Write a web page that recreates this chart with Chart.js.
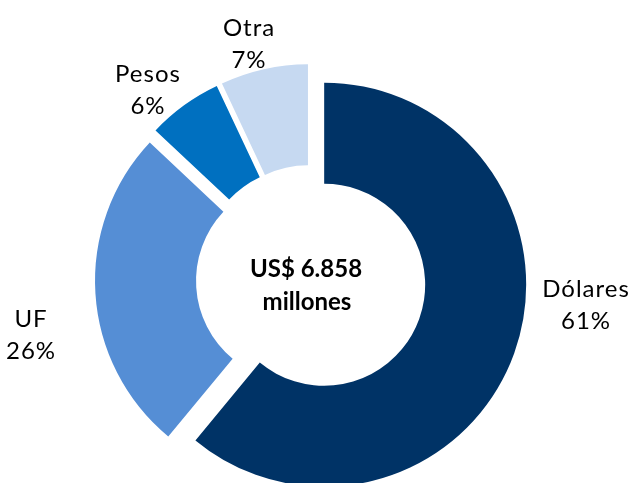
<!DOCTYPE html>
<html>
<head>
<meta charset="utf-8">
<script src="https://cdn.jsdelivr.net/npm/chart.js@4.4.0/dist/chart.umd.min.js"></script>
<style>
  html, body { margin: 0; padding: 0; background: #fff; overflow: hidden; }
  #wrap { width: 635px; height: 483px; position: relative; }
</style>
</head>
<body>
<div id="wrap"><canvas id="myChart" width="635" height="483"></canvas></div>
<script>
// data
const categories = ["Dólares", "UF", "Pesos", "Otra"];
const shares = [61, 26, 6, 7];
const colors = ["#003366", "#558ed5", "#0070c0", "#c6d9f1"];
const centerText = ["US$ 6.858", "millones"];

// where each label's first line sits (Excel "best fit" spots)
const labelSpots = [[586, 289], [31, 319], [148, 74], [249, 28]];

const explode = 14;
const font = "Lato, 'Open Sans', sans-serif";

// Excel explodes every slice by the same distance without growing it,
// so push the arc out ourselves instead of using Chart.js "offset"
const baseArcDraw = Chart.ArcElement.prototype.draw;
Chart.ArcElement.prototype.draw = function (ctx) {
    const mid = (this.startAngle + this.endAngle) / 2;
    ctx.save();
    ctx.translate(Math.cos(mid) * explode, Math.sin(mid) * explode);
    baseArcDraw.call(this, ctx);
    ctx.restore();
};

const textPlugin = {
    id: "texts",
    afterDatasetsDraw(chart) {
        const c = chart.ctx;
        const arc = chart.getDatasetMeta(0).data[0];
        c.save();
        c.fillStyle = "#000";
        c.textAlign = "center";
        c.textBaseline = "middle";
        c.font = "bold 24px " + font;
        c.fillText(centerText[0], arc.x - 5, arc.y - 11);
        c.fillText(centerText[1], arc.x - 4, arc.y + 22);
        c.font = "24px " + font;
        c.letterSpacing = "1px";
        for (let i = 0; i < categories.length; i++) {
            const [x, y] = labelSpots[i];
            c.fillText(categories[i], x, y);
            c.fillText(shares[i] + "%", x, y + 32);
        }
        c.restore();
    }
};

new Chart(document.getElementById("myChart").getContext("2d"), {
    type: "doughnut",
    data: {
        labels: categories,
        datasets: [{
            data: shares,
            backgroundColor: colors,
            borderWidth: 0
        }]
    },
    options: {
        responsive: false,
        animation: false,
        radius: 202,
        cutout: "50%",
        layout: { padding: { top: 77, right: 13, left: 0, bottom: 0 } },
        plugins: {
            legend: { display: false },
            tooltip: { enabled: false }
        }
    },
    plugins: [textPlugin]
});
</script>
</body>
</html>
